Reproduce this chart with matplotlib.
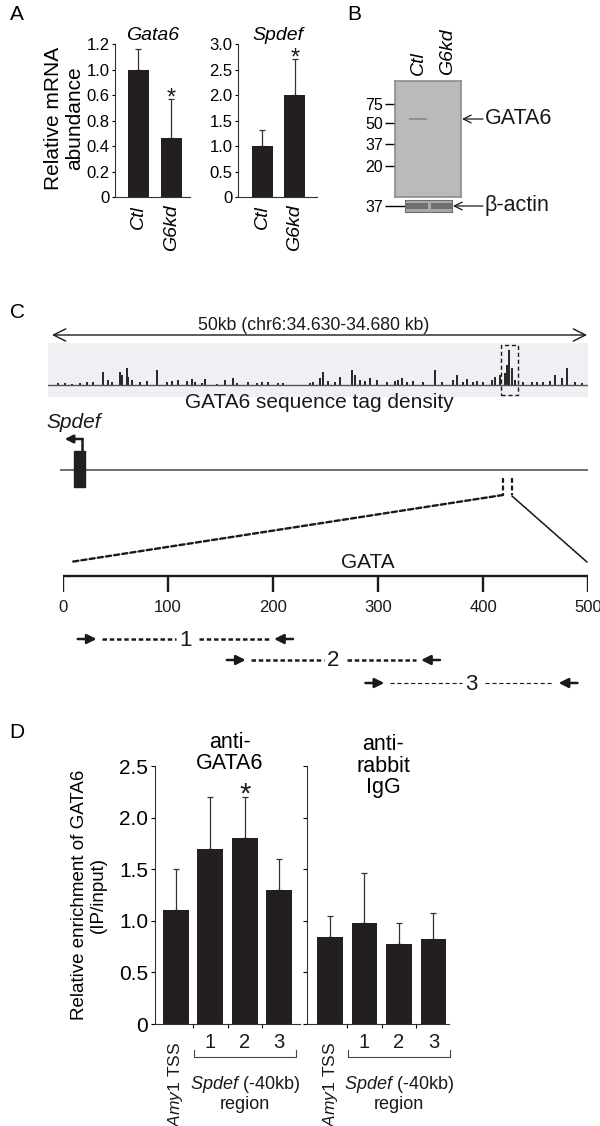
import matplotlib
matplotlib.use("Agg")
import matplotlib.pyplot as plt
from matplotlib.patches import Rectangle, ConnectionPatch

plt.rcParams["font.family"] = ["Liberation Sans", "DejaVu Sans"]
plt.rcParams["mathtext.fontset"] = "custom"
plt.rcParams["mathtext.rm"] = "Liberation Sans"
plt.rcParams["mathtext.it"] = "Liberation Sans:italic"

# ---------------- data ----------------
# A: qPCR after Gata6 knockdown
groups = ["Ctl", "G6kd"]
gata6_mrna = [1.0, 0.46]
gata6_err = [0.16, 0.31]
spdef_mrna = [1.0, 2.0]
spdef_err = [0.32, 0.70]
gata6_ticks = [0, 0.2, 0.4, 0.6, 0.8, 1.0, 1.2]
gata6_ticklabels = ["0", "0.2", "0.4", "0.8", "0.6", "1.0", "1.2"]
spdef_ticks = [0, 0.5, 1.0, 1.5, 2.0, 2.5, 3.0]
spdef_ticklabels = ["0", "0.5", "1.0", "1.5", "2.0", "2.5", "3.0"]

# B: western blot
marker_kda = ["75", "50", "37", "20"]
gata6_band = [0.45, 0.0]
actin_band = [1.0, 1.0]

# C: ChIP-seq track (kb from chr6:34,630 kb) and amplicons (bp)
tag_pos = [0.59, 1.21, 1.84, 2.62, 3.24, 3.86, 4.80, 5.26, 5.58, 6.36, 6.51, 6.98,
           7.13, 7.45, 8.22, 8.85, 9.79, 10.72, 11.19, 11.80, 12.59, 13.06, 13.36,
           13.99, 14.30, 15.39, 16.17, 16.95, 17.26, 18.35, 19.13, 19.60, 20.22,
           21.15, 21.62, 24.11, 24.42, 25.05, 25.36, 25.82, 26.45, 26.92, 28.01,
           28.32, 28.79, 29.25, 29.72, 30.34, 31.28, 32.06, 32.37, 32.68, 33.15,
           33.77, 34.70, 35.79, 36.42, 37.50, 37.82, 38.44, 38.76, 39.37, 39.69,
           40.31, 41.09, 41.40, 41.87, 42.34, 42.55, 42.74, 42.96, 43.27, 44.05,
           44.83, 45.30, 45.92, 46.54, 47.01, 47.63, 48.10, 48.88, 49.50]
tag_height = [1.7, 1.7, 1.3, 2, 2.7, 3.3, 12.7, 5, 3.3, 13.3, 10, 16.7,
              8.3, 5, 2.7, 4, 15, 3.3, 4, 5, 4, 6, 3.3,
              2, 6, 1.3, 5, 6.7, 1.7, 3.3, 2, 3.3, 3.3,
              2, 1.7, 1.7, 3.3, 6.7, 13.3, 4, 2.7, 8.3, 15,
              10, 5, 4, 6.7, 5, 3.3, 4, 5, 7.3, 3.3,
              4, 2.7, 15, 3.3, 5, 10, 3.3, 6, 3.3, 4,
              3.3, 5, 8.3, 10, 11.7, 20, 35, 16.7, 5, 2.7,
              3.3, 2.7, 3.3, 4, 10, 6.7, 16.7, 2.7, 2]
window_label = "50kb (chr6:34.630-34.680 kb)"
peak_kb = (41.95, 43.55)
spdef_exon_kb = (2.05, 3.1)
spdef_tss_kb = 2.8
region_kb = (42.15, 42.99)
scale_ticks = [0, 100, 200, 300, 400, 500]
amplicons = [(14, 219), (156, 359), (288, 490)]
amplicon_names = ["1", "2", "3"]

# D: ChIP-qPCR
chip_sites = ["Amy1 TSS", "1", "2", "3"]
gata6_chip = [1.1, 1.7, 1.8, 1.3]
gata6_chip_err = [0.4, 0.5, 0.4, 0.3]
igg_chip = [0.84, 0.98, 0.78, 0.82]
igg_chip_err = [0.21, 0.48, 0.20, 0.26]
chip_ticks = [0, 0.5, 1.0, 1.5, 2.0, 2.5]
chip_ticklabels = ["0", "0.5", "1.0", "1.5", "2.0", "2.5"]

BAR = "#231f20"
INK = "#1a1a1a"

W, H = 600, 1126
fig = plt.figure(figsize=(W / 100, H / 100), dpi=100)


def px_axes(x0, y0, x1, y1):
    return fig.add_axes([x0 / W, 1 - y1 / H, (x1 - x0) / W, (y1 - y0) / H])


ov = px_axes(0, 0, W, H)
ov.axis("off")
ov.set_zorder(5)


def star(ax, x, top, fs=17):
    ax.annotate("*", (x, top), xytext=(0, -4), textcoords="offset points",
                ha="center", va="baseline", fontsize=fs, color=INK)


def bar_axes(ax, vals, errs, width):
    x = list(range(len(vals)))
    ax.bar(x, vals, width=width, color=BAR, zorder=2)
    ax.errorbar(x, vals, yerr=[[0] * len(vals), errs], fmt="none", ecolor="#333333",
                elinewidth=0.9, capsize=2.5, capthick=0.9, zorder=1)
    for s in ["top", "right"]:
        ax.spines[s].set_visible(False)
    for s in ["left", "bottom"]:
        ax.spines[s].set_linewidth(0.8)
        ax.spines[s].set_color("#333333")
    ax.set_facecolor("none")
    return x


# ---------------- A ----------------
for box, vals, errs, ymax, ticks, tlabels, title, xl in [
    ((115, 44, 190, 197), gata6_mrna, gata6_err, 1.2, gata6_ticks, gata6_ticklabels, "Gata6", (-0.71, 1.56)),
    ((238, 44, 317, 197), spdef_mrna, spdef_err, 3.0, spdef_ticks, spdef_ticklabels, "Spdef", (-0.75, 1.68)),
]:
    ax = px_axes(*box)
    x = bar_axes(ax, vals, errs, 0.64)
    ax.set_ylim(0, ymax)
    ax.set_xlim(*xl)
    ax.set_yticks(ticks, tlabels)
    ax.set_xticks(x, groups, rotation=90, style="italic", fontsize=14)
    ax.tick_params(axis="x", length=0, pad=5.5)
    ax.tick_params(axis="y", direction="out", length=2.5, width=0.8, labelsize=12, pad=1.5)
    ax.set_title(title, style="italic", fontsize=14, pad=1)
    star(ax, 1, vals[1] + errs[1])

ov.text(64, 118, "Relative mRNA\nabundance", rotation=90, ha="center", va="center",
        fontsize=15, linespacing=1.1)

# ---------------- B ----------------
axb = px_axes(395, 81, 461, 197)
axb.set_facecolor("#bababa")
for s in axb.spines.values():
    s.set_color("#8c8c8c")
    s.set_linewidth(1.2)
axb.set_xlim(-0.79, 1.48)
axb.set_ylim(197, 81)
bands = axb.bar([0, 1], [2.2, 2.2], bottom=118, width=0.6, color="#5a5a5a")
for b, a in zip(bands, gata6_band):
    b.set_alpha(a)
axb.set_yticks([104, 123, 144, 166], marker_kda)
axb.tick_params(axis="y", direction="out", length=7.2, width=1, labelsize=11.5, pad=1.2)
axb.xaxis.tick_top()
axb.set_xticks([0, 1], groups, rotation=90, style="italic", fontsize=14)
axb.tick_params(axis="x", length=0, pad=4)

axa = px_axes(405, 200, 452, 212)
axa.set_facecolor("#a9a9a9")
for s in axa.spines.values():
    s.set_color("#6e6e6e")
axa.set_xlim(-0.48, 1.41)
axa.set_ylim(0, 1)
axa.bar([0, 1], [0.5 * a for a in actin_band], bottom=0.25, width=0.85, color="#6f6f6f")
axa.set_xticks([])
axa.set_yticks([0.5], ["37"])
axa.tick_params(axis="y", direction="out", length=14.4, width=1, labelsize=11.5, pad=1.2)

for y, lab, head in [(119, "GATA6", 462), (206, "\u03b2-actin", 453)]:
    ov.annotate("", xy=(head, y), xytext=(483, y),
                arrowprops=dict(arrowstyle="->", lw=0.9, color=INK, mutation_scale=14,
                                shrinkA=0, shrinkB=0))
    ov.text(485, y, lab, va="center", ha="left", fontsize=15.5, color=INK)

# ---------------- C ----------------
xl_kb = (-0.37, 50.09)
axt = px_axes(48, 343, 588, 397)
axt.set_facecolor("#eef0f4")
axt.set_xlim(*xl_kb)
axt.set_ylim(-12, 42)
for s in axt.spines.values():
    s.set_visible(False)
axt.set_xticks([])
axt.set_yticks([])
axt.bar(tag_pos, tag_height, width=0.2, color="#2a2a2a")
axt.axhline(0, color="#555555", lw=1)
axt.add_patch(Rectangle((peak_kb[0], -10), peak_kb[1] - peak_kb[0], 50, fill=False,
                        ec=INK, lw=1, ls=(0, (3, 2)), clip_on=False))

axc = px_axes(48, 300, 588, 540)
axc.axis("off")
axc.set_xlim(*xl_kb)
axc.set_ylim(540, 300)
axc.annotate("", xy=(50, 335), xytext=(0, 335),
             arrowprops=dict(arrowstyle="<->", lw=1, color=INK, mutation_scale=22,
                             shrinkA=0, shrinkB=0))
axc.text(24.5, 325, window_label, ha="center", va="center", fontsize=12.7, color=INK)
axc.text(25, 403, "GATA6 sequence tag density", ha="center", va="center", fontsize=15, color=INK)
axc.text(2.0, 423, "Spdef", ha="center", va="center", fontsize=15, style="italic", color=INK)
axc.hlines(470, 0.75, 50.2, color="#555555", lw=1.2)
axc.add_patch(Rectangle((spdef_exon_kb[0], 451), spdef_exon_kb[1] - spdef_exon_kb[0], 36,
                        color=BAR, zorder=3))
axc.plot([spdef_tss_kb, spdef_tss_kb], [451, 439], color=INK, lw=1.8, solid_capstyle="butt")
axc.annotate("", xy=(1.2, 439), xytext=(spdef_tss_kb + 0.08, 439),
             arrowprops=dict(arrowstyle="-|>", lw=1.8, color=INK, mutation_scale=12,
                             shrinkA=0, shrinkB=0))
axc.vlines(region_kb, 478, 495, color=INK, lw=1.6, ls=(0, (2.2, 1.2)))

axs = px_axes(63, 540, 588, 700)
axs.axis("off")
axs.set_xlim(0, 500)
axs.set_ylim(700, 540)
axs.hlines(576, 0, 500, color=INK, lw=1.7)
axs.vlines(scale_ticks, 576, 592, color=INK, lw=1.7)
for t in scale_ticks:
    axs.text(t, 607, str(t), ha="center", va="center", fontsize=12, color=INK)
axs.text(290, 562, "GATA", ha="center", va="center", fontsize=15, color=INK)

for (s, e), name, y, lw, dash in zip(amplicons, amplicon_names, [639, 660, 683],
                                     [1.8, 1.8, 0.8], [(1.8, 1.1), (1.8, 1.1), (3.8, 2.4)]):
    for a, b in [(s, s + 18), (e, e - 18)]:
        axs.annotate("", xy=(b, y), xytext=(a, y),
                     arrowprops=dict(arrowstyle="-|>", lw=1.8, color=INK, mutation_scale=14,
                                     shrinkA=0, shrinkB=0))
    mid = (s + e) / 2
    axs.plot([s + 23, mid - 9], [y, y], color=INK, lw=lw, ls=(0, dash))
    axs.plot([mid + 13, e - 23], [y, y], color=INK, lw=lw, ls=(0, dash))
    axs.text(mid, y + 1, name, ha="center", va="center", fontsize=16, color=INK)

fig.add_artist(ConnectionPatch(xyA=(region_kb[0], 495), coordsA=axc.transData,
                               xyB=(7, 562), coordsB=axs.transData,
                               color=INK, lw=1.7, ls=(0, (2.2, 1.3))))
fig.add_artist(ConnectionPatch(xyA=(region_kb[1], 496), coordsA=axc.transData,
                               xyB=(499, 562), coordsB=axs.transData,
                               color=INK, lw=1.2, ls=(0, (1.0, 0.8))))

# ---------------- D ----------------
axl = px_axes(155, 766, 300, 1024)
axr = px_axes(307, 766, 449, 1024)
for ax, vals, errs, xl, show in [(axl, gata6_chip, gata6_chip_err, (-0.6, 3.6), True),
                                 (axr, igg_chip, igg_chip_err, (-0.667, 3.45), False)]:
    x = bar_axes(ax, vals, errs, 0.75)
    ax.set_ylim(0, 2.5)
    ax.set_xlim(*xl)
    ax.set_yticks(chip_ticks, chip_ticklabels if show else [])
    ax.set_xticks([0.5, 1.5, 2.5], [])
    ax.tick_params(axis="x", direction="out", length=3, width=0.8)
    ax.tick_params(axis="y", direction="out", length=3, width=0.8, labelsize=15, pad=2)
    ax.annotate(r"$\mathit{Amy1}$ TSS", (0, 0), xycoords=("data", "axes fraction"),
                xytext=(0, -13), textcoords="offset points", rotation=90,
                ha="center", va="top", fontsize=12.5, color=INK)
    for i in range(1, 4):
        ax.annotate(chip_sites[i], (i, 0), xycoords=("data", "axes fraction"),
                    xytext=(0, -13.5), textcoords="offset points",
                    ha="center", va="center", fontsize=14.5, color=INK)
    ax.plot([0.52, 0.52, 3.48, 3.48], [-0.1, -0.128, -0.128, -0.1], transform=ax.get_xaxis_transform(),
            color="#444444", lw=0.8, clip_on=False)
    ax.annotate(r"$\mathit{Spdef}$ (-40kb)" + "\nregion", (2, 0), xycoords=("data", "axes fraction"),
                xytext=(0, -36), textcoords="offset points", ha="center", va="top",
                fontsize=13, linespacing=1.05, color=INK)

star(axl, 2, gata6_chip[2] + gata6_chip_err[2], fs=21)
ov.text(230, 753, "anti-\nGATA6", ha="center", va="center", fontsize=15.5, linespacing=1.05)
ov.text(383, 766, "anti-\nrabbit\nIgG", ha="center", va="center", fontsize=15.5, linespacing=1.05)
ov.text(89, 895, "Relative enrichment of GATA6\n(IP/input)", rotation=90,
        ha="center", va="center", fontsize=13.5, linespacing=1.1)

for lab, x, y in [("A", 10, 15), ("B", 347, 15), ("C", 10, 313), ("D", 9, 733)]:
    ov.text(x, y, lab, ha="left", va="center", fontsize=15)

ov.set_xlim(0, W)
ov.set_ylim(H, 0)

fig.savefig("out.png", dpi=100)
